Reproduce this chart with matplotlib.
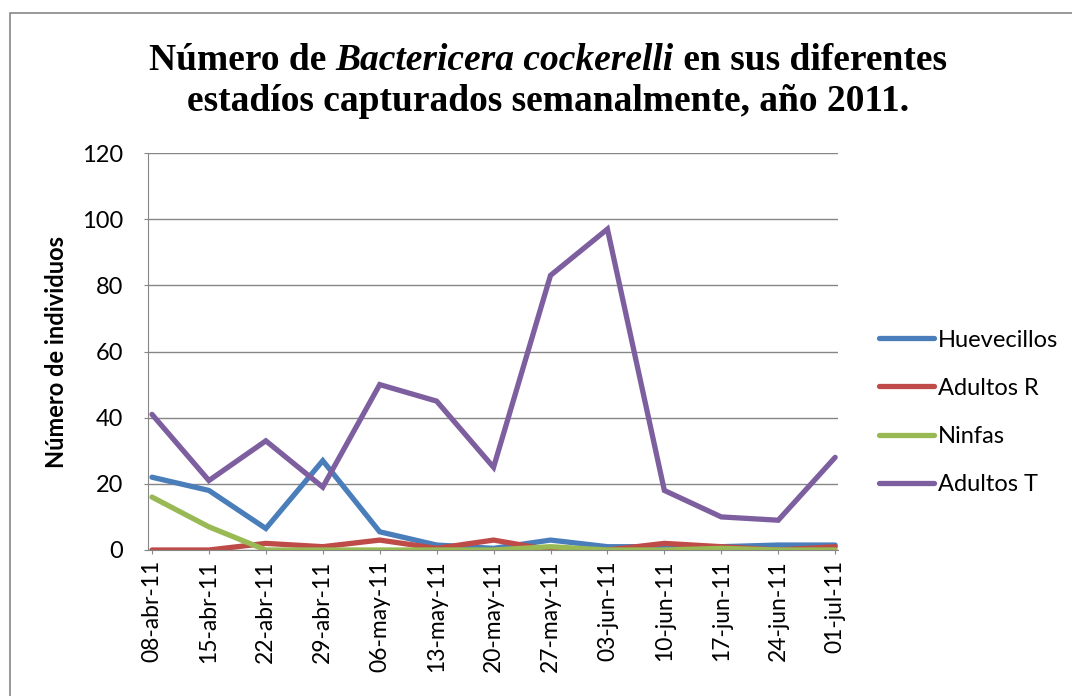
import matplotlib
matplotlib.use("Agg")
import matplotlib.pyplot as plt
from matplotlib.patches import Rectangle
import numpy as np

# data
fechas = ["08-abr-11", "15-abr-11", "22-abr-11", "29-abr-11", "06-may-11", "13-may-11",
          "20-may-11", "27-may-11", "03-jun-11", "10-jun-11", "17-jun-11", "24-jun-11", "01-jul-11"]
huevecillos = [22, 18, 6.5, 27, 5.5, 1.5, 0.5, 3, 1, 1, 1, 1.5, 1.5]
adultos_r = [0, 0, 2, 1, 3, 0.5, 3, 0, 0, 2, 1, 0, 1]
ninfas = [16, 7, 0, 0, 0, 0, 0, 1, 0, 0, 0.5, 0, 0]
adultos_t = [41, 21, 33, 19, 50, 45, 25, 83, 97, 18, 10, 9, 28]

series = ["Huevecillos", "Adultos R", "Ninfas", "Adultos T"]
colores = ["#4A7EBB", "#BE4B48", "#98B954", "#7D5FA0"]

W, H = 1072, 696
fig = plt.figure(figsize=(W / 100, H / 100), dpi=100)
ax = fig.add_axes([148 / W, 1 - 550 / H, (838 - 148) / W, (550 - 153) / H])

x = np.arange(len(fechas))
for vals, nombre, c in zip([huevecillos, adultos_r, ninfas, adultos_t], series, colores):
    ax.plot(x, vals, color=c, lw=3.8, label=nombre, solid_joinstyle="miter", solid_capstyle="round")

ax.set_xlim(-0.07, 12.05)
ax.set_ylim(0, 120)
ax.set_yticks(range(0, 121, 20))
ax.set_xticks(x)
ax.set_xticklabels(fechas, rotation=90, fontsize=16.5, family="Lato")
for t in ax.get_yticklabels():
    t.set_fontsize(17)
    t.set_family("Lato")
ax.yaxis.grid(True, color="#868686", lw=1)
ax.set_axisbelow(True)
for s in ["top", "right"]:
    ax.spines[s].set_visible(False)
ax.spines["left"].set_color("#868686")
ax.spines["bottom"].set_color("#868686")
ax.tick_params(axis="y", length=3, color="#868686", pad=15)
ax.tick_params(axis="x", length=3, color="#868686", pad=4.3)

ax.set_ylabel("Número de individuos", fontsize=17, fontweight="bold", family="Lato", labelpad=10)

leg = ax.legend(loc="center left", bbox_to_anchor=(1.028, 0.347), frameon=False,
                prop={"family": "Lato", "size": 17}, handlelength=2.33, labelspacing=1.15,
                handletextpad=0.2)

# title with italic species name
fig.canvas.draw()
r = fig.canvas.get_renderer()
partes = [("Número de ", "normal"), ("Bactericera cockerelli", "italic"), (" en sus diferentes", "normal")]
textos = []
for txt, st in partes:
    t = fig.text(0, 1 - 70 / H, txt, fontsize=27, fontweight="bold", style=st,
                 family="Liberation Serif")
    textos.append(t)
fig.canvas.draw()
anchos = [t.get_window_extent(r).width for t in textos]
x0 = 548 - sum(anchos) / 2
for t, w in zip(textos, anchos):
    t.set_x(x0 / W)
    x0 += w
fig.text(548 / W, 1 - 111 / H, "estadíos capturados semanalmente, año 2011.", fontsize=27,
         fontweight="bold", family="Liberation Serif", ha="center")

# outer chart border
fig.patches.append(Rectangle((10 / W, -0.1), 1.2, 1.1 - 13 / H, transform=fig.transFigure,
                             fill=False, edgecolor="#868686", lw=1.2))

fig.savefig("out.png", dpi=100)
